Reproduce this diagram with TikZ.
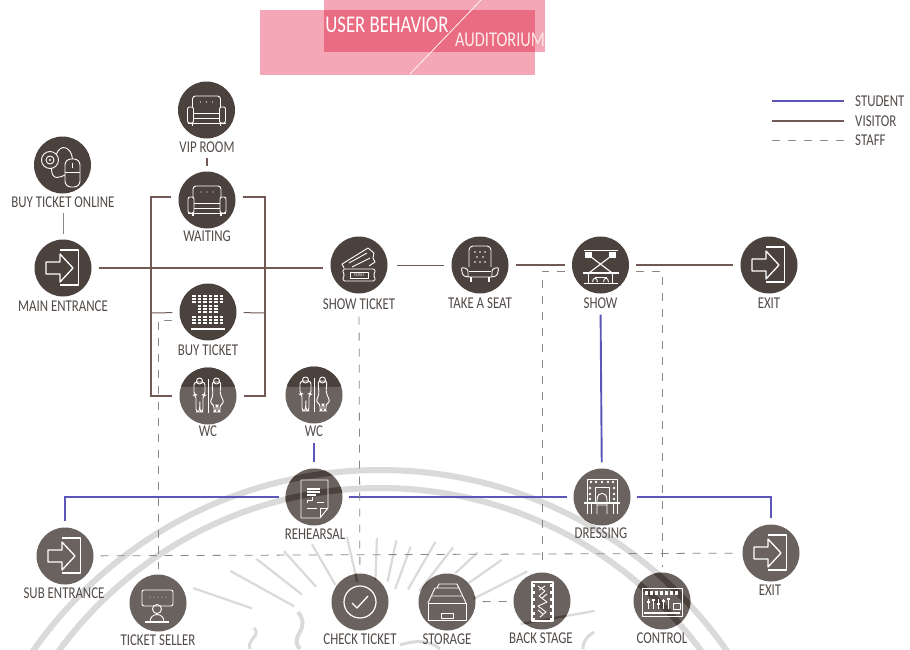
\documentclass[tikz,border=0pt]{standalone}
\usepackage{fontspec}
\usepackage{xcolor}
\setmainfont[FakeStretch=0.78]{Carlito}
\usetikzlibrary{calc,positioning}

\definecolor{darkcirc}{HTML}{4B413D}
\definecolor{lowcirc}{HTML}{6A625E}
\definecolor{labelgray}{HTML}{524B48}
\definecolor{visitorc}{HTML}{6F5A56}
\definecolor{studentc}{HTML}{5B56B8}
\definecolor{staffc}{HTML}{8E8684}
\definecolor{sealc}{HTML}{DADADA}
\definecolor{palepink}{HTML}{F3A7B7}
\definecolor{deeppink}{HTML}{EA6C82}

% seal behind the diagram: two bands, rays, some strokes
\newcommand{\sealmark}[1]{%
    \draw[#1, line width=6] (380,893) circle (423);
    \draw[#1, line width=6] (380,886) circle (398);
    \foreach \a/\ro/\ri in {161/190/128, 151/163/90, 142/148/90, 132/133/85, 120/122/75, 103/116/70,
        88/112/70, 78/112/70, 70/110/65, 60/125/70, 52/130/75, 43/143/112, 35/157/117, 27/173/113, 10/225/150} {
        \draw[#1, line width=2.2] (373,650) ++(-\a:\ro) -- ++(180-\a:\ro-\ri);
    }
    \draw[#1, line width=4] (300,649) .. controls (288,636) and (312,630) .. (298,612);
    \draw[#1, line width=3] (250,649) .. controls (246,640) and (262,635) .. (254,628);
    \draw[#1, line width=3] (583,649) .. controls (583,640) and (588,636) .. (594,632);
    \draw[#1, line width=3] (440,649) .. controls (430,640) and (415,640) .. (400,645);
}

% icons, around the centre of a circle
\tikzset{
    iconline/.style={draw=white, line width=0.9, line join=round},
    pics/exiticon/.style={code={
        \draw[iconline, line width=1.3] (-3,-18) -- (15.5,-18) -- (15.5,17) -- (-3,17);
        \draw[iconline, line width=1.3] (-17,-6) -- (-3,-6) -- (-3,-14) -- (10,0) -- (-3,14) -- (-3,6) -- (-17,6) -- cycle;
    }},
    pics/sofaicon/.style={code={
        \draw[iconline, rounded corners=3] (-14,-3) -- (-14,-14) -- (14,-14) -- (14,-3);
        \draw[iconline, rounded corners=2] (-19,-3) rectangle (-13,13);
        \draw[iconline, rounded corners=2] (19,-3) rectangle (13,13);
        \draw[iconline] (-13,3) -- (13,3) (-13,8) -- (13,8) (-19,13) -- (19,13);
        \draw[iconline, line width=1.4] (-14,13) -- (-14,16) (14,13) -- (14,16);
        \foreach \x in {-6,0,6} \fill[white] (\x,-8) circle (0.6);
    }},
    pics/mouseicon/.style={code={
        \draw[iconline, rounded corners=6] (2.5,-6) rectangle (17.5,22);
        \draw[iconline] (2.5,7) -- (17.5,7);
        \draw[iconline] (10,-2) -- (10,3);
        \draw[iconline] (-12.5,-5) circle (8.5);
        \draw[iconline] (-12.5,-5) circle (4);
        \fill[white] (-12.5,-5) circle (1.2);
        \draw[iconline] (-6,-11) .. controls (-2,-22) and (9,-18) .. (10,-6);
        \draw[iconline] (-11,3) .. controls (-11,17) and (-2,12) .. (2.5,10);
    }},
    pics/ticketicon/.style={code={
        \draw[iconline, rounded corners=1.5] (-16,4) -- (16,4) -- (16,8) -- (14,10) -- (16,12) -- (16,16) -- (-16,16) -- (-16,12) -- (-14,10) -- (-16,8) -- cycle;
        \draw[iconline] (-9,7) rectangle (9,13);
        \node[text=white, font=\fontsize{5}{5}\selectfont, inner sep=0] (tk) at (0,10) {TICKET};
        \draw[iconline] (-17,-1) -- (9,-17) -- (15,-12) -- (14,-7) -- (16,-3) -- (10,1);
        \draw[iconline] (-15,3) -- (-17,-1) (-10,-2) -- (8,-12) (-7,2) -- (11,-7);
    }},
    pics/seaticon/.style={code={
        \draw[iconline, rounded corners=4] (-11,2) -- (-11,-19) -- (11,-19) -- (11,2);
        \draw[iconline, rounded corners=2.5] (-12,12) -- (-12,4) -- (-19,2) -- (-17,11) -- (-12,12) -- (12,12) -- (17,11) -- (19,2) -- (12,4) -- (12,12);
        \draw[iconline] (-11,6) -- (11,6);
        \draw[iconline, line width=1.3] (-9,12) -- (-9,17) (9,12) -- (9,17);
        \foreach \x/\y in {-5/-13, 0/-13, 5/-13, -3/-8, 3/-8, -5/-3, 0/-3, 5/-3}
            \fill[white] (\x,\y) circle (0.9);
    }},
    pics/showicon/.style={code={
        \draw[iconline] (-17,-15) -- (17,-15);
        \draw[iconline, line width=1.1] (-12,-10) -- (13,9) (12,-10) -- (-13,9);
        \draw[iconline, fill=white] (-15,-13) rectangle (-9,-8);
        \draw[iconline, fill=white] (15,-13) rectangle (9,-8);
        \draw[iconline, line width=1.5] (-18,8) -- (18,8);
        \draw[iconline] (-17,18) -- (17,18) (-12,8) -- (-12,18) (12,8) -- (12,18) (-6,12) -- (6,12);
        \draw[iconline] (-8,17) .. controls (-8,12) and (-3,12) .. (-3,17) (3,17) .. controls (3,12) and (8,12) .. (8,17);
    }},
    pics/gridicon/.style={code={
        \foreach \y in {-16,-13,-10} \foreach \x in {-14,-8.5,-3,2.5,8,13.5} \fill[white] (\x-1.6,\y-1) rectangle (\x+1.6,\y+1);
        \foreach \y in {-6,-3,0} \foreach \x in {-8.5,-3,2.5,8} \fill[white] (\x-1.6,\y-1) rectangle (\x+1.6,\y+1);
        \foreach \y in {5,8,11} \foreach \x in {-14,-8.5,-3,2.5,8,13.5} \fill[white] (\x-1.6,\y-1) rectangle (\x+1.6,\y+1);
        \draw[iconline, line width=1.2] (-17,17) -- (17,17);
    }},
    pics/wcicon/.style={code={
        \draw[iconline] (0,-17) -- (0,17);
        \draw[iconline, rounded corners=3] (-12,-1) -- (-14,-1) -- (-14,-14) -- (-3,-14) -- (-3,-1) -- (-5,-1) -- (-5,16) -- (-8,16) -- (-8,4) -- (-8.5,16) -- (-12,16) -- cycle;
        \draw[iconline] (-8.5,-15) circle (3);
        \draw[iconline, rounded corners=2.5] (5,-1) -- (4,-14) -- (13,-14) -- (12,-3) -- (16,7) -- (12,9) -- (12,16) -- (10,16) -- (10,9) -- (8,9) -- (8,16) -- (6,16) -- (6,9) -- (2,7) -- cycle;
        \draw[iconline] (8.5,-15) circle (3);
    }},
    pics/scripticon/.style={code={
        \draw[iconline] (-13,-17) -- (14,-17) -- (14,11) -- (6,21) -- (-13,21) -- cycle;
        \draw[iconline] (14,11) -- (6,11) -- (6,21);
        \draw[iconline, line width=1.3] (-7,-8) -- (6,-8) (-7,-5) -- (6,-5) (-7,-2) -- (2,-2);
        \draw[iconline] (-7,6) -- (-7,3) -- (-2,3) -- (-2,0) (3,5) -- (10,5) (-7,11) -- (3,11);
    }},
    pics/dressicon/.style={code={
        \draw[iconline] (-15,-18) rectangle (15,5);
        \foreach \x in {-11,-6,0,6,11} \fill[white] (\x,-15) circle (1.3);
        \foreach \y in {-9,-3,2} { \fill[white] (-12,\y) circle (1.3); \fill[white] (12,\y) circle (1.3); }
        \draw[iconline] (-7,5) -- (-7,-10) -- (7,-10) -- (7,5);
        \draw[iconline, line width=1.3] (-18,6) -- (18,6);
        \draw[iconline] (-15,6) -- (-15,17) (-11,6) -- (-11,17) (15,6) -- (15,17) (11,6) -- (11,17);
        \draw[iconline] (-5,17) -- (-5,3) .. controls (-5,-6) and (5,-6) .. (5,3) -- (5,17) (-5,8) -- (5,8);
    }},
    pics/sellericon/.style={code={
        \draw[iconline, rounded corners=2] (-16,-13) rectangle (15,3);
        \foreach \x in {-8,-4,0,4,8} \fill[white] (\x,-6) circle (0.5);
        \draw[iconline] (-1,6) circle (4.5);
        \draw[iconline] (-8,19) .. controls (-8,9) and (6,9) .. (6,19) -- cycle;
        \draw[iconline, line width=1.2] (-13,19) -- (11,19);
    }},
    pics/checkicon/.style={code={
        \draw[iconline, line width=1.2] (0,0) circle (16);
        \draw[iconline, line width=1.3] (-8,1) -- (-3,6) -- (8,-6);
    }},
    pics/storageicon/.style={code={
        \draw[iconline] (-19,1) -- (-19,18) -- (19,18) -- (19,1) -- cycle;
        \draw[iconline] (-19,1) -- (-12,-14) -- (12,-14) -- (19,1);
        \draw[iconline] (-15,-6) -- (15,-6) (-10,-14) -- (-8,-18) -- (10,-18) -- (12,-14);
        \draw[iconline] (-6,11) rectangle (6,16);
    }},
    pics/stripicon/.style={code={
        \draw[iconline, line width=1.3] (-10,-19) rectangle (11,20);
        \foreach \y in {-16,-9,-2,5,12,18} {
            \fill[white] (-10,\y-1.5) rectangle (-7,\y+1.5);
            \fill[white] (8,\y-1.5) rectangle (11,\y+1.5);
        }
        \draw[iconline] (-4,-15) -- (3,-10) -- (-3,-5) -- (5,1) -- (-4,5) -- (4,11) -- (-2,16);
        \draw[iconline] (3,-15) -- (-3,-11) (5,-7) -- (0,-3) (-4,9) -- (1,13);
    }},
    pics/mixericon/.style={code={
        \draw[iconline] (-20,-13) rectangle (20,15);
        \foreach \x in {-16,-11,-6,-1,4,9,14} \fill[white] (\x-1.5,-10) rectangle (\x+1.5,-6);
        \foreach \x/\y in {-14/1, -9/-1, -4/3, 1/0, 6/-2} {
            \draw[iconline] (\x,-2) -- (\x,8);
            \fill[white] (\x-1.5,\y-1) rectangle (\x+1.5,\y+1);
        }
        \draw[iconline] (11,2) rectangle (18,8);
        \draw[iconline, line width=1.3] (-18,12) -- (18,12);
    }}
}

\begin{document}
\begin{tikzpicture}[
        x=1pt, y=-1pt,
        % Style for the circles
        iconnode/.style={
            circle,
            fill=darkcirc,
            minimum size=57,
            inner sep=0pt
        },
        lownode/.style={
            iconnode,
            fill=lowcirc
        },
        % Style for the captions
        caption/.style={
            text=labelgray,
            inner sep=0pt,
            font=\fontsize{16.5}{16.5}\selectfont
        },
        % Styles of the three routes
        visitor/.style={
            draw=visitorc,
            line width=1.5,
            shorten >=7,
            shorten <=7
        },
        thinvisitor/.style={
            visitor,
            line width=1,
            shorten >=5,
            shorten <=5
        },
        student/.style={
            draw=studentc,
            line width=1.9,
            shorten >=6,
            shorten <=6
        },
        staff/.style={
            draw=staffc,
            line width=0.8,
            dash pattern=on 8 off 8,
            shorten >=5,
            shorten <=7
        },
        bandnode/.style={
            inner sep=0pt,
            text=white
        }
    ]
        \useasboundingbox (0,0) rectangle (910,649);
        \fill[white] (0,0) rectangle (910,649);

        % --- SEAL ---
        \begin{scope}
            \clip (0,0) rectangle (910,649);
            \sealmark{sealc}
        \end{scope}

        % --- BANNER ---
        \fill[palepink] (324,0) rectangle (545,52);
        \fill[palepink] (260,10) rectangle (535,74.5);
        \fill[deeppink] (324,10) rectangle (535,52);
        \coordinate (slashb) at (410,74);
        \coordinate (slasht) at (481,0);
        \draw[white!85!pink, line width=0.8] (slashb) -- (slasht);
        \node[bandnode, font=\fontsize{24}{24}\selectfont] (bandtop) at (387,24.5) {USER BEHAVIOR};
        \node[bandnode, text=white!70!pink, font=\fontsize{21}{21}\selectfont] (bandlow) at (500,40) {AUDITORIUM};

        % --- CIRCLES ---
        % Upper part
        \node[iconnode] (vip) at (206.5,110) {};
        \node[iconnode] (online) at (62.5,165) {};
        \node[iconnode] (waiting) at (207,200) {};
        \node[iconnode] (main) at (63,268) {};
        \node[iconnode] (showt) at (359,265) {};
        \node[iconnode] (seat) at (480,265) {};
        \node[iconnode] (show) at (600.5,265) {};
        \node[iconnode] (exit) at (769,265) {};
        \node[iconnode] (buyt) at (208,312) {};

        % Lower part
        \node[lownode] (wcl) at (208,396) {};
        \node[lownode] (wcr) at (314,395) {};
        \node[lownode] (rehearsal) at (314,497) {};
        \node[lownode] (dressing) at (602,497) {};
        \node[lownode] (subent) at (65,556) {};
        \node[lownode] (exitlow) at (771,553) {};
        \node[lownode] (seller) at (158,603) {};
        \node[lownode] (checkt) at (360,602) {};
        \node[lownode] (storage) at (447,602) {};
        \node[lownode] (backs) at (542,601) {};
        \node[lownode] (control) at (662,601) {};

        % Top of the two WC circles, and the seal on the circles
        \foreach \n in {wcl,wcr} {
            \begin{scope}
                \clip (\n) circle (28.5);
                \fill[darkcirc] (150,360) rectangle (350,387);
            \end{scope}
        }
        \foreach \n in {rehearsal,dressing,seller,checkt,storage,backs,control} {
            \begin{scope}
                \clip (\n) circle (28.5);
                \sealmark{darkcirc}
            \end{scope}
        }

        % --- ICONS ---
        \pic at (vip) {sofaicon};
        \pic at (waiting) {sofaicon};
        \pic at (online) {mouseicon};
        \pic at (main) {exiticon};
        \pic at (showt) {ticketicon};
        \pic at (seat) {seaticon};
        \pic at (show) {showicon};
        \pic at (exit) {exiticon};
        \pic at (buyt) {gridicon};
        \pic at (wcl) {wcicon};
        \pic at (wcr) {wcicon};
        \pic at (rehearsal) {scripticon};
        \pic at (dressing) {dressicon};
        \pic at (subent) {exiticon};
        \pic at (exitlow) {exiticon};
        \pic at (seller) {sellericon};
        \pic at (checkt) {checkicon};
        \pic at (storage) {storageicon};
        \pic at (backs) {stripicon};
        \pic at (control) {mixericon};

        % --- CAPTIONS ---
        \node[caption] (tvip) at (207,147) {VIP ROOM};
        \node[caption] (tonline) at (63,202) {BUY TICKET ONLINE};
        \node[caption] (twaiting) at (207,236.5) {WAITING};
        \node[caption] (tmain) at (63,306) {MAIN ENTRANCE};
        \node[caption] (tshowt) at (359,304) {SHOW TICKET};
        \node[caption] (tseat) at (480,303.5) {TAKE A SEAT};
        \node[caption] (tshow) at (600.5,303) {SHOW};
        \node[caption] (texit) at (769,303) {EXIT};
        \node[caption] (tbuyt) at (208,350) {BUY TICKET};
        \node[caption] (twcl) at (208,431) {WC};
        \node[caption] (twcr) at (314,431) {WC};
        \node[caption] (trehearsal) at (315,534) {REHEARSAL};
        \node[caption] (tdressing) at (601,533) {DRESSING};
        \node[caption] (tsubent) at (64,593) {SUB ENTRANCE};
        \node[caption] (texitlow) at (770,590) {EXIT};
        \node[caption] (tseller) at (158,640) {TICKET SELLER};
        \node[caption] (tcheckt) at (360,639) {CHECK TICKET};
        \node[caption] (tstorage) at (447,639) {STORAGE};
        \node[caption] (tbacks) at (541,638) {BACK STAGE};
        \node[caption] (tcontrol) at (662,638) {CONTROL};

        % --- VISITOR ROUTE ---
        \draw[visitor] (main) -- (showt.west |- main);
        \draw[thinvisitor, shorten >=7, shorten <=9] (showt) -- (seat);
        \draw[visitor] (seat) -- (show);
        \draw[visitor] (show) -- (exit);
        \draw[thinvisitor, line width=1.1] (tvip) -- (waiting);
        \draw[thinvisitor, draw=staffc] (tonline) -- (main);

        % Bracket around waiting, buy ticket and wc
        \coordinate (bleft) at (151,313);
        \coordinate (bright) at (265,313);
        \draw[visitor] ([yshift=3]waiting.west) -- ++(-27.5,0) |- (wcl);
        \draw[visitor] ([yshift=3]waiting.east) -- ++(29.5,0) |- (wcl);
        \draw[thinvisitor, shorten >=0, shorten <=7] (buyt) -- (bleft);
        \draw[thinvisitor, shorten >=0, shorten <=7] (buyt) -- (bright);

        % --- STUDENT ROUTE ---
        \draw[student] (twcr) -- (rehearsal);
        \draw[student] (rehearsal) -| (subent);
        \draw[student] (rehearsal) -- (dressing);
        \draw[student] (tshow) -- (dressing);
        \draw[student] (dressing) -| (exitlow);

        % --- STAFF ROUTE ---
        \draw[staff] (subent) -- (exitlow);
        \draw[staff] (tshowt) -- (checkt);
        \draw[staff] ([yshift=-8]buyt.west) -| (seller);
        \draw[staff] ([yshift=-6]show.west) -| (backs);
        \draw[staff] ([yshift=-6]show.east) -| (control);
        \draw[staff] (storage) -- (backs);

        % --- LEGEND ---
        \node[caption, anchor=west] (lstudent) at (855,101) {STUDENT};
        \node[caption, anchor=west] (lvisitor) at (855,121) {VISITOR};
        \node[caption, anchor=west] (lstaff) at (855,140) {STAFF};
        \coordinate (astudent) at (772,101);
        \coordinate (avisitor) at (772,121);
        \coordinate (astaff) at (772,140);
        \draw[student, shorten <=0, shorten >=11] (astudent) -- (lstudent);
        \draw[visitor, shorten <=0, shorten >=11] (avisitor) -- (lvisitor);
        \draw[staff, shorten <=0, shorten >=11] (astaff) -- (lstaff);

    \end{tikzpicture}
\end{document}
